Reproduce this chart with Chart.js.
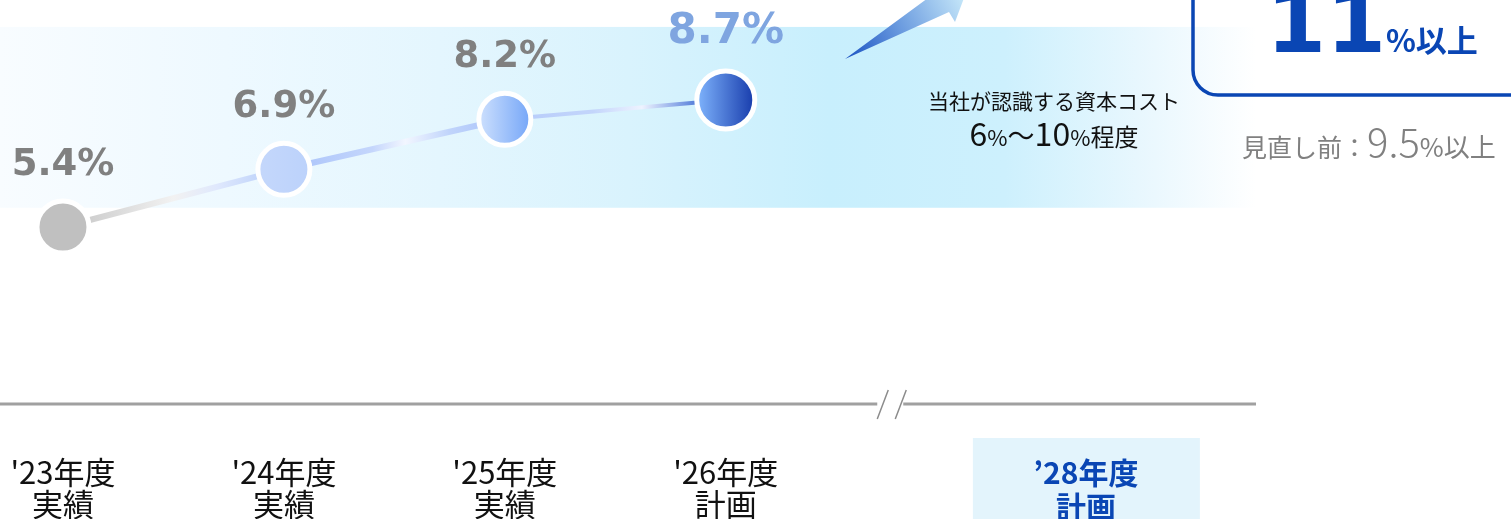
<!DOCTYPE html>
<html>
<head>
<meta charset="utf-8">
<script src="https://cdn.jsdelivr.net/npm/chart.js@4"></script>
<style>
  html, body { margin: 0; padding: 0; background: #fff; }
  #wrap { width: 1511px; height: 519px; position: relative; }
</style>
</head>
<body>
<div id="wrap"><canvas id="roe"></canvas></div>
<script>
// data
const years = ["'23年度", "'24年度", "'25年度", "'26年度"]
const kinds = ["実績", "実績", "実績", "計画"]
const roeValues = [5.4, 6.9, 8.2, 8.7]
const targetYear = "’28年度"
const targetKind = "計画"
const targetValue = "11"
const previousTarget = "9.5"
const costBand = [5.9, 10.6]   // shaded band "資本コスト 6%~10%"

// layout bits
const TARGET_SLOT = 4.63        // '28 sits after the axis break
const BREAK_SLOT = 3.74
const CJK = '"Noto Sans CJK JP", "Noto Sans", sans-serif'
const NUM = '"DejaVu Sans", Verdana, sans-serif'
const BLUE = '#0a46b4'

const pointFills = [
  ['#c0c0c0', '#c0c0c0'],
  ['#c4d7fb', '#bcd2fb'],
  ['#cadefd', '#78a8f8'],
  ['#7cb0fa', '#1a3fae']
]
const segStops = [
  [[0, '#c4c4c4'], [0.5, '#f2f2f2'], [0.7, '#dfe8fd'], [1, '#b2cbf9']],
  [[0, '#a8c2fa'], [0.4, '#c4d6fc'], [0.55, '#f2f6ff'], [0.75, '#c0d4fb'], [1, '#a8c2fa']],
  [[0, '#b5cbfa'], [0.4, '#c3d5fb'], [0.62, '#eef3ff'], [0.85, '#5f86dc'], [1, '#2e58c8']]
]

function hGrad(ctx, x0, x1, stops) {
  const g = ctx.createLinearGradient(x0, 0, x1, 0)
  stops.forEach(s => g.addColorStop(s[0], s[1]))
  return g
}

// draws a run of [text, font] pieces on one baseline, returns end x
function runText(ctx, pieces, x0, base) {
  let px = x0
  pieces.forEach(p => {
    ctx.font = p[1]
    ctx.fillText(p[0], px, base)
    px += ctx.measureText(p[0]).width
  })
  return px
}
function runWidth(ctx, pieces) {
  let w = 0
  pieces.forEach(p => { ctx.font = p[1]; w += ctx.measureText(p[0]).width })
  return w
}

const decor = {
  id: 'decor',
  beforeDatasetsDraw(chart) {
    const { ctx, chartArea, scales: { x, y } } = chart
    ctx.save()

    // cost of capital band
    const top = y.getPixelForValue(costBand[1])
    const bot = y.getPixelForValue(costBand[0])
    ctx.fillStyle = hGrad(ctx, chartArea.left, chartArea.right, [
      [0, '#f8fcff'], [0.18, '#eef9ff'], [0.35, '#e4f6fe'], [0.5, '#d9f3fd'],
      [0.66, '#c8effd'], [0.8, '#cdf0fd'], [0.92, '#ebf8fe'], [1, '#ffffff']
    ])
    ctx.fillRect(chartArea.left, top, chartArea.right - chartArea.left, bot - top)

    // x axis with a break
    const ay = chartArea.bottom
    const bx = x.getPixelForValue(BREAK_SLOT)
    ctx.strokeStyle = '#a0a0a0'
    ctx.lineWidth = 3
    ctx.beginPath()
    ctx.moveTo(chartArea.left, ay); ctx.lineTo(bx - 12, ay)
    ctx.moveTo(bx + 14, ay); ctx.lineTo(chartArea.right, ay)
    ctx.stroke()
    ctx.lineWidth = 1.5
    ctx.strokeStyle = '#8c8c8c'
    ctx.beginPath()
    ctx.moveTo(bx - 12, ay + 15); ctx.lineTo(bx - 1, ay - 14)
    ctx.moveTo(bx + 6, ay + 15); ctx.lineTo(bx + 17, ay - 14)
    ctx.stroke()

    // category labels
    ctx.textAlign = 'center'
    ctx.textBaseline = 'alphabetic'
    ctx.fillStyle = '#111'
    ctx.font = '31px ' + CJK
    years.forEach((t, i) => {
      const px = x.getPixelForValue(i)
      ctx.fillText(t, px, 484)
      ctx.fillText(kinds[i], px, 516)
    })
    const tx = x.getPixelForValue(TARGET_SLOT)
    ctx.fillStyle = '#e3f4fc'
    ctx.fillRect(tx - 113, 438, 227, 90)
    ctx.fillStyle = BLUE
    ctx.font = 'bold 30px ' + CJK
    ctx.fillText(targetYear, tx, 484)
    ctx.fillText(targetKind, tx, 518)

    // band caption
    ctx.fillStyle = '#111'
    ctx.font = '21px ' + CJK
    ctx.fillText('当社が認識する資本コスト', 1054, 109)
    ctx.textAlign = 'left'
    const parts = [['6', '32px ' + CJK], ['%', '22px ' + CJK], ['～', '27px ' + CJK],
      ['10', '32px ' + CJK], ['%', '22px ' + CJK], ['程度', '24px ' + CJK]]
    runText(ctx, parts, 1054 - runWidth(ctx, parts) / 2, 146)

    // arrow towards target
    const ag = ctx.createLinearGradient(845, 59, 962, 0)
    ag.addColorStop(0, '#1a52c2')
    ag.addColorStop(0.5, '#6d9de0')
    ag.addColorStop(1, '#c2e4f8')
    ctx.fillStyle = ag
    ctx.beginPath()
    ctx.moveTo(845, 59)
    ctx.lineTo(949, 12)
    ctx.lineTo(955, 22)
    ctx.lineTo(964, -2)
    ctx.lineTo(928, -2)
    ctx.closePath()
    ctx.fill()

    // target box
    ctx.strokeStyle = BLUE
    ctx.lineWidth = 3.5
    ctx.beginPath()
    ctx.roundRect(1193, -40, 400, 135, 25)
    ctx.stroke()
    ctx.fillStyle = BLUE
    ctx.font = 'bold 86px ' + NUM
    ctx.textAlign = 'right'
    ctx.fillText(targetValue, 1386, 52)
    ctx.textAlign = 'left'
    ctx.font = 'bold 31px ' + CJK
    ctx.fillText('%以上', 1386, 52)

    // previous target
    ctx.fillStyle = '#808080'
    runText(ctx, [['見直し前：', '25px ' + CJK], [previousTarget, '300 40px ' + CJK],
      ['%以上', '26px ' + CJK]], 1242, 157)
    ctx.restore()
  },
  afterDatasetsDraw(chart) {
    const { ctx } = chart
    const pts = chart.getDatasetMeta(0).data
    ctx.save()
    ctx.textAlign = 'center'
    ctx.textBaseline = 'alphabetic'
    pts.forEach((p, i) => {
      const last = i === pts.length - 1
      ctx.font = 'bold ' + (last ? 42 : 37) + 'px ' + NUM
      ctx.fillStyle = last ? '#7fa5e0' : '#808080'
      ctx.fillText(roeValues[i].toFixed(1) + '%', p.x, p.y - (last ? 57 : 52))
    })
    ctx.restore()
  }
}

new Chart(document.getElementById('roe'), {
  type: 'line',
  data: {
    datasets: [{
      data: roeValues.map((v, i) => ({ x: i, y: v })),
      borderWidth: 5,
      segment: {
        borderColor: c => hGrad(c.chart.ctx, c.p0.x, c.p1.x, segStops[c.p0DataIndex]),
        borderWidth: c => [6, 6, 4][c.p0DataIndex]
      },
      pointRadius: c => c.dataIndex === 3 ? 29 : 26,
      pointBorderWidth: 5,
      pointBorderColor: '#ffffff',
      pointBackgroundColor: c => {
        const chart = c.chart
        if (!chart.chartArea) return pointFills[c.dataIndex][0]
        const px = chart.scales.x.getPixelForValue(c.dataIndex)
        const r = c.dataIndex === 3 ? 27 : 24
        return hGrad(chart.ctx, px - r, px + r, [[0, pointFills[c.dataIndex][0]], [1, pointFills[c.dataIndex][1]]])
      },
      pointHoverRadius: 26,
      tension: 0,
      clip: false
    }]
  },
  options: {
    responsive: true,
    maintainAspectRatio: false,
    animation: false,
    layout: { autoPadding: false, padding: { left: 0, right: 255, top: 0, bottom: 115 } },
    plugins: { legend: { display: false }, tooltip: { enabled: false } },
    scales: {
      x: { type: 'linear', min: -0.285, max: 5.4, display: false },
      y: { min: 0.8, max: 11.3, display: false }
    }
  },
  plugins: [decor]
})
</script>
</body>
</html>
